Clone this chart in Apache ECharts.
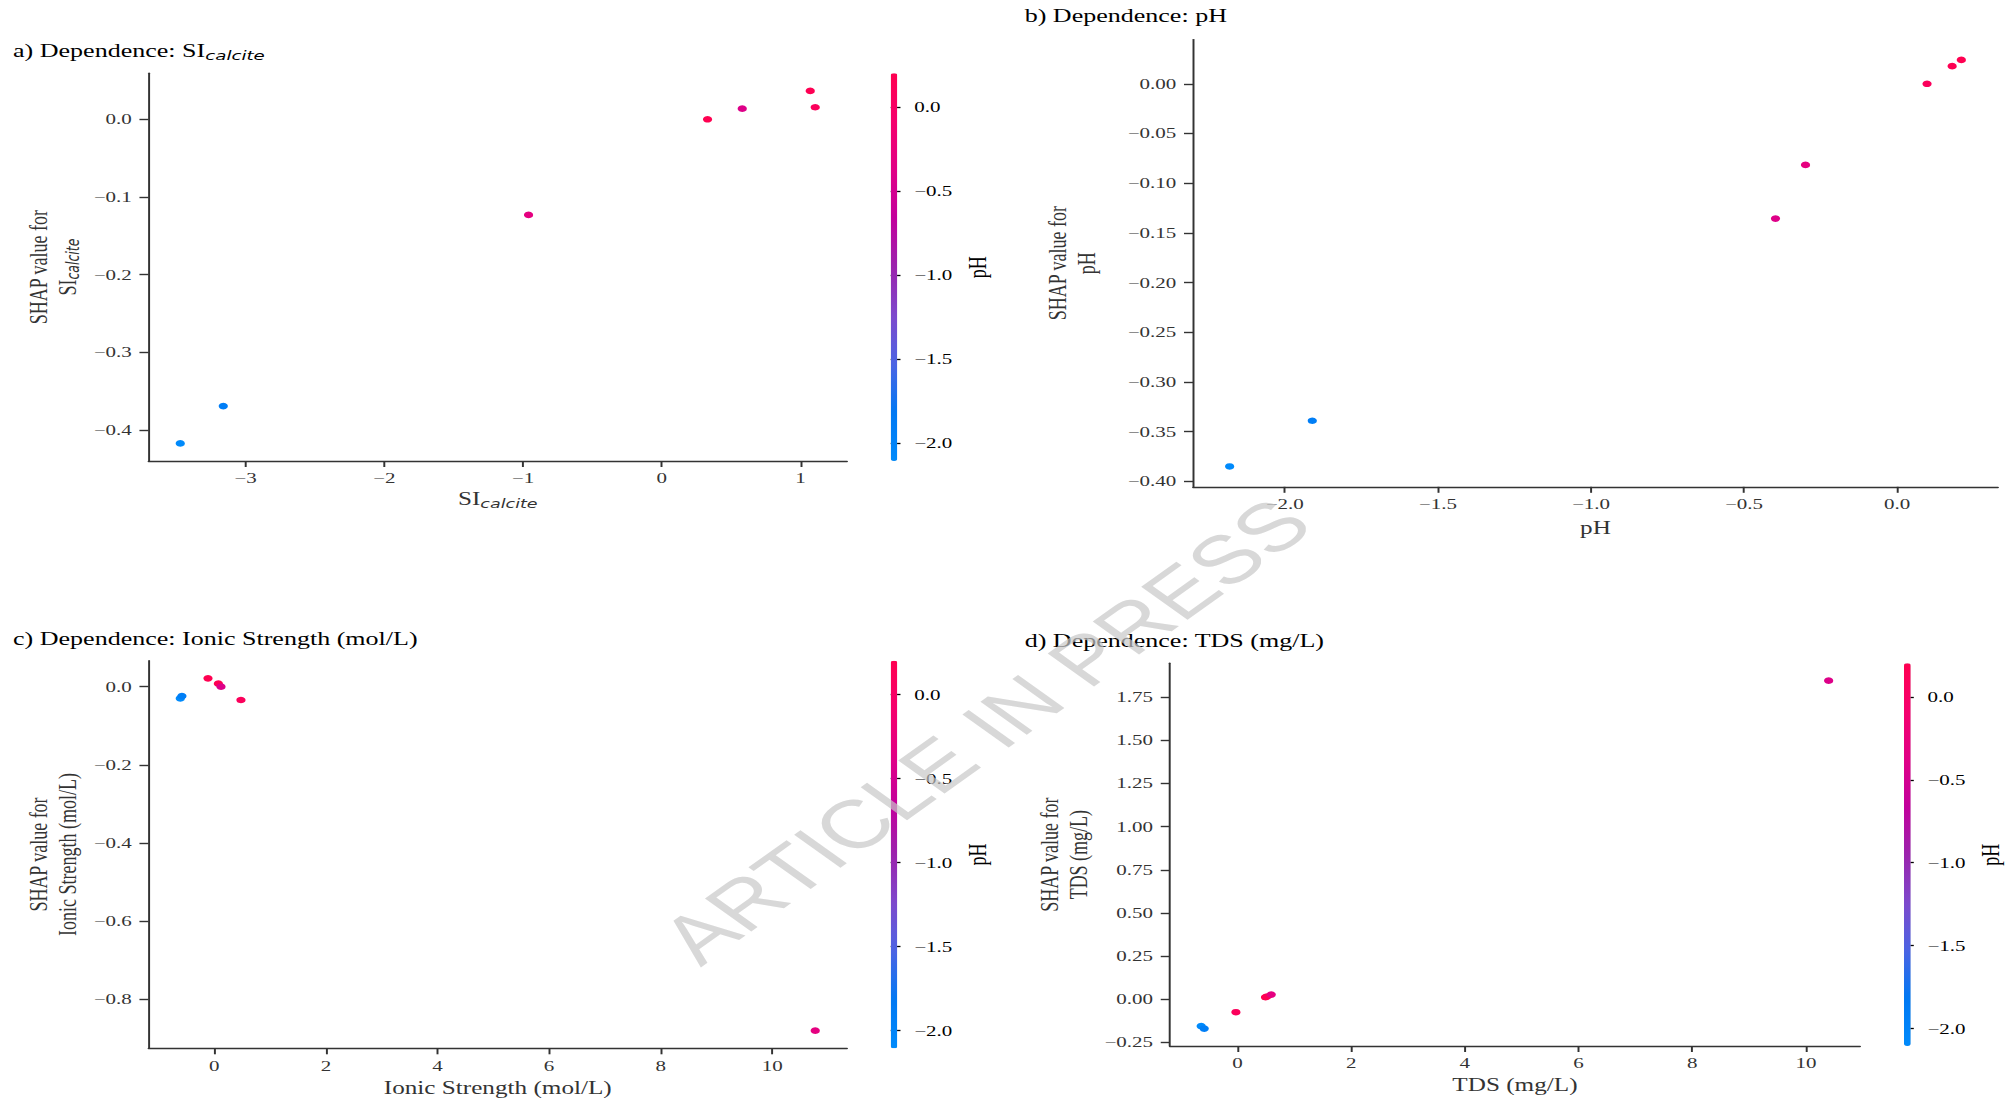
<!DOCTYPE html>
<html>
<head>
<meta charset="utf-8">
<script src="https://cdn.jsdelivr.net/npm/echarts@6/dist/echarts.min.js"></script>
<style>
  html, body { margin: 0; padding: 0; background: #fff; overflow: hidden; width: 2016px; height: 1099px; }
  /* the figure is laid out on a 1440px canvas and widened 1.4x horizontally */
  #chart { width: 1440px; height: 1099px; transform: scaleX(1.4); transform-origin: 0 0; }
</style>
</head>
<body>
<div id="chart"></div>
<script>
// ---- a) SI calcite
const siCalcite      = [-3.47, -3.16, -0.96, 0.33, 0.58, 1.07, 1.106];
const shapSiCalcite  = [-0.417, -0.369, -0.123, 0.000, 0.0137, 0.0365, 0.0155];
const phForSi        = [-2.18, -1.91, -0.30, 0.21, -0.40, 0.18, 0.10];

// ---- b) pH
const phValues       = [-2.18, -1.91, -0.397, -0.299, 0.098, 0.18, 0.21];
const shapPh         = [-0.385, -0.339, -0.1356, -0.0816, 0.000, 0.0177, 0.024];

// ---- c) Ionic strength
const ionicStrength  = [-0.61, -0.58, -0.113, 0.073, 0.12, 0.478, 10.77];
const shapIonic      = [-0.030, -0.024, 0.0215, 0.0077, 0.000, -0.034, -0.881];
const phForIonic     = [-2.18, -1.91, 0.21, 0.18, -0.40, 0.10, -0.30];

// ---- d) TDS
const tdsValues      = [-0.637, -0.584, -0.026, 0.495, 0.52, 0.595, 10.40];
const shapTds        = [-0.156, -0.170, -0.075, 0.0116, 0.016, 0.027, 1.846];
const phForTds       = [-2.18, -1.91, 0.10, 0.21, 0.18, -0.30, -0.40];

// ---- tick values
const aXTicks  = [-3, -2, -1, 0, 1];
const aYTicks  = [-0.4, -0.3, -0.2, -0.1, 0.0];
const bXTicks  = [-2.0, -1.5, -1.0, -0.5, 0.0];
const bYTicks  = [-0.40, -0.35, -0.30, -0.25, -0.20, -0.15, -0.10, -0.05, 0.00];
const cXTicks  = [0, 2, 4, 6, 8, 10];
const cYTicks  = [-0.8, -0.6, -0.4, -0.2, 0.0];
const dXTicks  = [0, 2, 4, 6, 8, 10];
const dYTicks  = [-0.25, 0.00, 0.25, 0.50, 0.75, 1.00, 1.25, 1.50, 1.75];
const cbTicks  = [-2.0, -1.5, -1.0, -0.5, 0.0];

// colour scale limits for pH
const PH_MIN = -2.105;
const PH_MAX = 0.202;

// blue -> purple -> red diverging ramp
const RED_BLUE = ['#008afb', '#0078f3', '#4b63e3', '#7d49cc', '#9b23ad', '#c2009c', '#e00086', '#f5006d', '#ff0051'];

const SERIF = '"Liberation Serif", "Times New Roman", serif';
const SUB = '"DejaVu Sans", sans-serif';
const AXIS_COLOR = '#333333';

function paddedExtent(values, frac) {
  const lo = Math.min(...values), hi = Math.max(...values), pad = (hi - lo) * frac;
  return [lo - pad, hi + pad];
}
const fmt = d => v => (Math.abs(v) < 1e-9 ? 0 : v).toFixed(d).replace('-', '\u2212');

const subRich = {
  t: { fontFamily: SERIF, fontSize: 18, color: AXIS_COLOR, lineHeight: 20.5 },
  s: { fontFamily: SUB, fontStyle: 'italic', fontSize: 12.5, color: AXIS_COLOR, lineHeight: 13, padding: [9, 0, 0, 0] }
};

const panels = [
  { x: siCalcite, y: shapSiCalcite, ph: phForSi, xt: aXTicks, yt: aYTicks, xd: 0, yd: 1,
    grid: { left: 106.1, top: 73.3, width: 498.9, height: 387.7 },
    xName: '{t|SI}{s|calcite}', xGap: 28, yName: '{t|SHAP value for}\n{t|SI}{s|calcite}', yGap: 48 },
  { x: phValues, y: shapPh, ph: phValues, xt: bXTicks, yt: bYTicks, xd: 1, yd: 2,
    grid: { left: 852.2, top: 39.6, width: 574.9, height: 447.2 },
    xName: '{t|pH}', xGap: 31, yName: '{t|SHAP value for}\n{t|pH}', yGap: 66 },
  { x: ionicStrength, y: shapIonic, ph: phForIonic, xt: cXTicks, yt: cYTicks, xd: 0, yd: 1,
    grid: { left: 106.1, top: 660.7, width: 498.9, height: 387.6 },
    xName: '{t|Ionic Strength (mol/L)}', xGap: 29, yName: '{t|SHAP value for}\n{t|Ionic Strength (mol/L)}', yGap: 48 },
  { x: tdsValues, y: shapTds, ph: phForTds, xt: dXTicks, yt: dYTicks, xd: 0, yd: 2,
    grid: { left: 835.6, top: 663.3, width: 493.0, height: 382.7 },
    xName: '{t|TDS (mg/L)}', xGap: 29, yName: '{t|SHAP value for}\n{t|TDS (mg/L)}', yGap: 55 }
];

// colour bars for panels a, c, d
const colorBars = [
  { panel: 0, left: 636.2 },
  { panel: 2, left: 636.2 },
  { panel: 3, left: 1360.0 }
];
const CB_WIDTH = 4.8;

const grids = [], xAxes = [], yAxes = [], series = [], visualMaps = [];

const axisLineStyle = { color: AXIS_COLOR, width: 1.4 };
const labelStyle = { fontFamily: SERIF, fontSize: 15, color: AXIS_COLOR };

panels.forEach((p, i) => {
  grids.push(Object.assign({ outerBoundsMode: 'none', containLabel: false }, p.grid));
  const xe = paddedExtent(p.x, 0.05), ye = paddedExtent(p.y, 0.05);
  xAxes.push({
    gridIndex: i, type: 'value', min: xe[0], max: xe[1],
    axisLine: { show: true, onZero: false, lineStyle: axisLineStyle },
    axisTick: { show: true, length: 6, lineStyle: axisLineStyle, customValues: p.xt },
    axisLabel: Object.assign({ customValues: p.xt, formatter: fmt(p.xd), margin: 10 }, labelStyle),
    splitLine: { show: false },
    name: p.xName, nameLocation: 'middle', nameGap: p.xGap,
    nameTextStyle: { rich: subRich, fontFamily: SERIF, fontSize: 18, color: AXIS_COLOR }
  });
  yAxes.push({
    gridIndex: i, type: 'value', min: ye[0], max: ye[1],
    axisLine: { show: true, onZero: false, lineStyle: axisLineStyle },
    axisTick: { show: true, length: 6.5, lineStyle: axisLineStyle, customValues: p.yt },
    axisLabel: Object.assign({ customValues: p.yt, formatter: fmt(p.yd), margin: 12 }, labelStyle),
    splitLine: { show: false },
    name: p.yName, nameLocation: 'middle', nameGap: p.yGap,
    nameTextStyle: { rich: subRich, fontFamily: SERIF, fontSize: 18, color: AXIS_COLOR, align: 'center', lineHeight: 20.5 }
  });
  series.push({
    type: 'scatter', xAxisIndex: i, yAxisIndex: i, silent: true,
    symbol: 'circle', symbolSize: 6.6, itemStyle: { opacity: 1 },
    data: p.x.map((v, k) => [v, p.y[k], p.ph[k]])
  });
});

// hidden colour mapping for panel b (no bar drawn)
visualMaps.push({
  type: 'continuous', show: false, seriesIndex: 1, dimension: 2,
  min: PH_MIN, max: PH_MAX, inRange: { color: RED_BLUE }
});

colorBars.forEach((cb, j) => {
  const g = panels[cb.panel].grid;
  const gi = panels.length + j;
  grids.push({ outerBoundsMode: 'none', containLabel: false, left: cb.left, top: g.top, width: CB_WIDTH, height: g.height });
  xAxes.push({ gridIndex: gi, type: 'value', show: false, min: 0, max: 1 });
  yAxes.push({
    gridIndex: gi, type: 'value', position: 'right', min: PH_MIN, max: PH_MAX,
    axisLine: { show: false },
    axisTick: { show: true, length: 7, lineStyle: { color: '#000', width: 1.3 }, customValues: cbTicks },
    axisLabel: { customValues: cbTicks, formatter: fmt(1), margin: 12, fontFamily: SERIF, fontSize: 15, color: '#000' },
    splitLine: { show: false },
    name: 'pH', nameLocation: 'middle', nameGap: 48,
    nameTextStyle: { fontFamily: SERIF, fontSize: 18, color: '#000' }
  });
  visualMaps.push({
    type: 'continuous', show: true, seriesIndex: cb.panel, dimension: 2,
    min: PH_MIN, max: PH_MAX, calculable: false, hoverLink: false,
    orient: 'vertical', left: cb.left, top: g.top, padding: 0,
    itemWidth: CB_WIDTH, itemHeight: g.height,
    inRange: { color: RED_BLUE }
  });
});

const titleStyle = {
  fontFamily: SERIF, fontSize: 18.6, fontWeight: 'normal', color: '#000',
  rich: {
    n: { fontFamily: SERIF, fontSize: 18.6, color: '#000', lineHeight: 21 },
    s: { fontFamily: SUB, fontStyle: 'italic', fontSize: 13, color: '#000', lineHeight: 14, padding: [10, 0, 0, 0] }
  }
};

const option = {
  backgroundColor: '#ffffff',
  animation: false,
  title: [
    { text: '{n|a) Dependence: SI}{s|calcite}', left: 9.3, top: 40, padding: 0, textStyle: titleStyle },
    { text: '{n|b) Dependence: pH}', left: 731.9, top: 5.5, padding: 0, textStyle: titleStyle },
    { text: '{n|c) Dependence: Ionic Strength (mol/L)}', left: 9.3, top: 628, padding: 0, textStyle: titleStyle },
    { text: '{n|d) Dependence: TDS (mg/L)}', left: 731.9, top: 630.5, padding: 0, textStyle: titleStyle }
  ],
  grid: grids,
  xAxis: xAxes,
  yAxis: yAxes,
  visualMap: visualMaps,
  series: series,
  graphic: [{
    type: 'text', x: 704, y: 731, rotation: Math.PI / 4, z: 100, silent: true,
    style: {
      text: 'ARTICLE IN PRESS', font: '68px "Liberation Sans", Arial, sans-serif',
      fill: 'rgba(200,200,200,0.7)', align: 'center', verticalAlign: 'middle'
    }
  }]
};

const chart = echarts.init(document.getElementById('chart'), null, { renderer: 'svg', width: 1440, height: 1099 });
chart.setOption(option);
</script>
</body>
</html>
